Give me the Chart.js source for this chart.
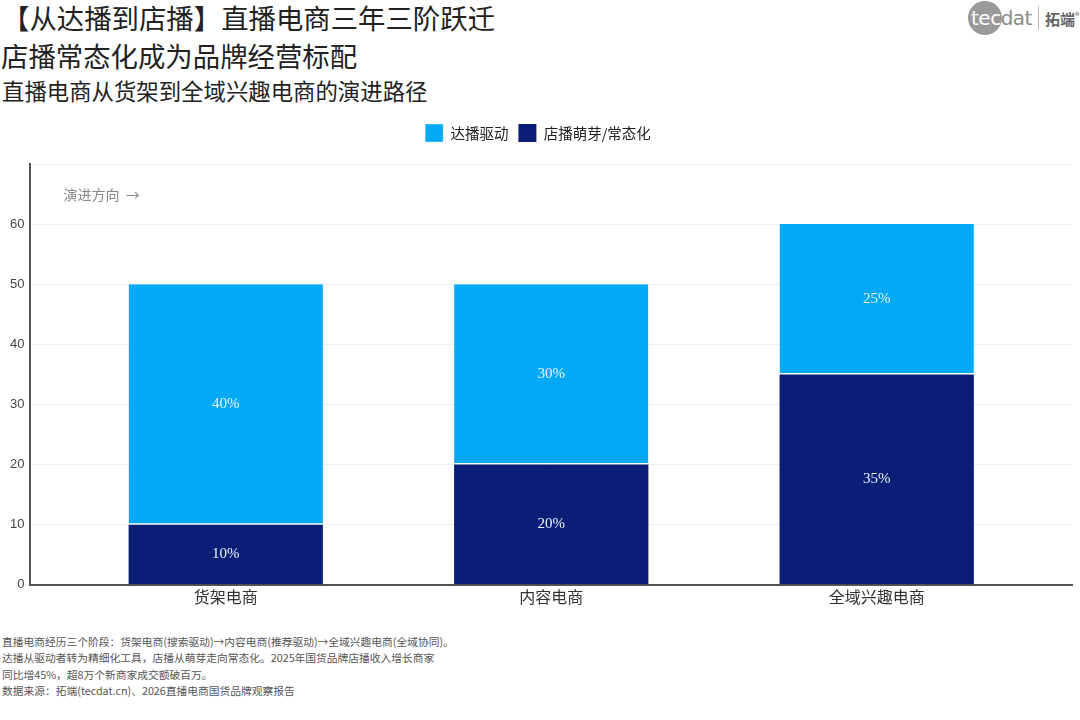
<!DOCTYPE html>
<html>
<head>
<meta charset="utf-8">
<script src="https://cdn.jsdelivr.net/npm/chart.js@4.4.1/dist/chart.umd.min.js"></script>
<style>
  body { margin: 0; width: 1080px; height: 720px; background: #fff; position: relative; overflow: hidden;
         font-family: "Noto Sans CJK SC", "Noto Sans", sans-serif; }
  .t1 { position: absolute; left: 2px; top: -3px; font-size: 27.4px; color: #222; }
  .t2 { position: absolute; left: 1px; top: 35px; font-size: 27.4px; color: #222; }
  .t3 { position: absolute; left: 2px; top: 74px; font-size: 22.4px; color: #222; }
  .logo { position: absolute; left: 968px; top: 2px; height: 32px; display: flex; align-items: center; }
  .logo .circ { width: 34px; height: 34px; border-radius: 50%; background: #9a9a9a; position: absolute; left: 0; top: -1px; }
  .logo .word { position: relative; font-family: "DejaVu Sans", sans-serif; font-size: 20px; color: #8a8a8a; padding-left: 3px; letter-spacing: -0.5px; }
  .logo .word span { color: #fff; }
  .logo .bar { width: 1px; height: 24px; background: #bbb; margin: 0 6px 0 6px; }
  .logo .cn { font-size: 15px; color: #666; font-weight: bold; }
  .logo .cn sup { font-size: 9px; font-weight: normal; }
  #wrap { position: absolute; left: 0; top: 110px; width: 1080px; height: 500px; }
  .foot { position: absolute; left: 2px; top: 634px; font-size: 10.75px; line-height: 16.3px; color: #555; }
</style>
</head>
<body>
<div class="t1">【从达播到店播】直播电商三年三阶跃迁</div>
<div class="t2">店播常态化成为品牌经营标配</div>
<div class="t3">直播电商从货架到全域兴趣电商的演进路径</div>
<div class="logo"><div class="circ"></div><div class="word"><span>tec</span>dat</div><div class="bar"></div><div class="cn">拓端<sup>®</sup></div></div>
<div id="wrap"><canvas id="chart"></canvas></div>
<div class="foot">
直播电商经历三个阶段：货架电商(搜索驱动)→内容电商(推荐驱动)→全域兴趣电商(全域协同)。<br>
达播从驱动者转为精细化工具，店播从萌芽走向常态化。2025年国货品牌店播收入增长商家<br>
同比增45%，超8万个新商家成交额破百万。<br>
数据来源：拓端(tecdat.cn)、2026直播电商国货品牌观察报告
</div>
<script>
// stages and stacked shares
const stages = ['货架电商', '内容电商', '全域兴趣电商'];
const storeShare = [10, 20, 35];   // 店播萌芽/常态化
const talentShare = [40, 30, 25];  // 达播驱动
const yMax = 70;
const yStep = 10;

const colorTalent = '#03A9F4';
const colorStore = '#0A1E76';

// x is numeric so the categories can sit inside a padded range
const toPoints = arr => arr.map((v, i) => ({ x: i, y: v }));

// labels inside each segment + direction note
const segLabels = {
    id: 'segLabels',
    afterDatasetsDraw(chart) {
        const ctx = chart.ctx;
        ctx.save();
        ctx.font = '15px "Liberation Serif", "DejaVu Serif", serif';
        ctx.fillStyle = '#eaf6ff';
        ctx.textAlign = 'center';
        ctx.textBaseline = 'middle';
        chart.data.datasets.forEach((ds, i) => {
            chart.getDatasetMeta(i).data.forEach((bar, j) => {
                const mid = (bar.y + bar.base) / 2;
                ctx.fillText(ds.data[j].y + '%', bar.x, mid);
            });
        });
        const area = chart.chartArea;
        ctx.font = '14px "Noto Sans CJK SC", sans-serif';
        ctx.fillStyle = '#888';
        ctx.textAlign = 'left';
        ctx.fillText('演进方向  →', area.left + 33, area.top + 31);
        ctx.restore();
    }
};

// extra space under the legend
const legendGap = {
    id: 'legendGap',
    beforeInit(chart) {
        const fit = chart.legend.fit;
        chart.legend.fit = function () {
            fit.bind(chart.legend)();
            this.height += 12;
        };
    }
};

new Chart(document.getElementById('chart'), {
    type: 'bar',
    data: {
        datasets: [
            {
                label: '店播萌芽/常态化',
                data: toPoints(storeShare),
                backgroundColor: colorStore,
                borderWidth: 0
            },
            {
                label: '达播驱动',
                data: toPoints(talentShare),
                backgroundColor: colorTalent,
                borderColor: '#ffffff',
                borderWidth: { bottom: 1.5, top: 0, left: 0, right: 0 },
                borderSkipped: false
            }
        ]
    },
    options: {
        responsive: true,
        maintainAspectRatio: false,
        animation: false,
        layout: { padding: { left: 4, right: 8, top: 4, bottom: 0 } },
        datasets: { bar: { categoryPercentage: 1.0, barPercentage: 0.597 } },
        plugins: {
            legend: {
                position: 'top',
                reverse: true,
                labels: {
                    boxWidth: 18,
                    boxHeight: 18,
                    padding: 10,
                    color: '#222',
                    font: { size: 14.5, family: '"Noto Sans CJK SC", sans-serif' }
                }
            },
            tooltip: { enabled: false }
        },
        scales: {
            x: {
                type: 'linear',
                stacked: true,
                offset: false,
                min: -0.6,
                max: 2.6,
                grid: { display: false, drawTicks: false, offset: false },
                border: { display: true, color: '#555', width: 2 },
                afterBuildTicks: s => { s.ticks = stages.map((_, i) => ({ value: i })); },
                ticks: {
                    color: '#333',
                    padding: 3,
                    font: { size: 16, family: '"Noto Sans CJK SC", sans-serif' },
                    callback: v => stages[v]
                }
            },
            y: {
                stacked: true,
                min: 0,
                max: yMax,
                grid: { color: '#eeeeee', lineWidth: 1, drawTicks: false },
                border: { display: true, color: '#555', width: 2 },
                ticks: {
                    stepSize: yStep,
                    padding: 6,
                    color: '#444',
                    font: { size: 13, family: '"Liberation Sans Narrow", "Liberation Sans", sans-serif' },
                    callback: v => (v === yMax ? '' : v)
                }
            }
        }
    },
    plugins: [segLabels, legendGap]
});
</script>
</body>
</html>
